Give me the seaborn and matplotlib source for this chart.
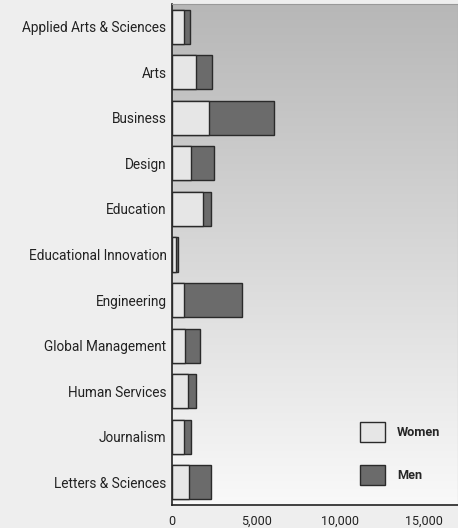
import numpy as np
import pandas as pd
import matplotlib
matplotlib.use('Agg')
import matplotlib.pyplot as plt
from matplotlib.patches import Patch
import seaborn as sns

# ── Data ───────────────────────────────────────────────
colleges = ['Applied Arts & Sciences', 'Arts', 'Business', 'Design',
            'Education', 'Educational Innovation', 'Engineering',
            'Global Management', 'Human Services', 'Journalism',
            'Letters & Sciences']
women = [700, 1400, 2200, 1150, 1850, 250, 700, 800, 930, 730, 990]
men   = [400, 1000, 3850, 1370, 480, 100, 3450, 880, 520, 400, 1330]

df = pd.DataFrame({'college': colleges, 'Women': women, 'Men': men})
df['Total'] = df['Women'] + df['Men']

sns.set_style('white')
plt.rcParams['font.family'] = ['Roboto', 'DejaVu Sans']

fig = plt.figure(figsize=(4.58, 5.28), dpi=100, facecolor='#eeeeee')
ax = fig.add_axes([0.3755, 0.0436, 0.6245, 0.9488])

# gradient background (dark at top, light at bottom)
grad = np.linspace(0, 1, 256).reshape(-1, 1)
ax.imshow(grad, cmap=matplotlib.colors.LinearSegmentedColormap.from_list(
              'bg', ['#b7b7b7', '#f9f9f9']),
          extent=[0, 17000, 10.5, -0.5], aspect='auto', zorder=0)

# stacked bars: total (men colour) then women on top
sns.barplot(data=df, x='Total', y='college', color='#6b6b6b',
            edgecolor='#2a2a2a', linewidth=1.0, width=0.75,
            saturation=1, ax=ax, zorder=2)
sns.barplot(data=df, x='Women', y='college', color='#e6e6e6',
            edgecolor='#2a2a2a', linewidth=1.0, width=0.75,
            saturation=1, ax=ax, zorder=3)

ax.set_xlim(0, 17000)
ax.set_ylim(10.5, -0.5)
ax.set_xticks([0, 5000, 10000, 15000])
ax.set_xticklabels(['0', '5,000', '10,000', '15,000'])
ax.set_xlabel('')
ax.set_ylabel('')
ax.tick_params(axis='x', direction='in', length=6, width=1,
               color='#333333', labelsize=9, pad=7, labelcolor='#222222')
ax.tick_params(axis='y', length=0, labelsize=9.8, pad=4, labelcolor='#222222')

for side in ['left', 'bottom']:
    ax.spines[side].set_color('#222222')
    ax.spines[side].set_linewidth(1.2)
for side in ['top', 'right']:
    ax.spines[side].set_color('#999999')
    ax.spines[side].set_linewidth(0.8)

handles = [Patch(facecolor='#e6e6e6', edgecolor='#2a2a2a', label='Women'),
           Patch(facecolor='#6b6b6b', edgecolor='#2a2a2a', label='Men')]
leg = ax.legend(handles=handles, loc='lower left',
                bbox_to_anchor=(0.657, 0.04), frameon=False,
                borderaxespad=0, borderpad=0, handletextpad=0.9,
                handlelength=2.0, handleheight=2.0, labelspacing=1.8,
                prop={'weight': 'bold', 'size': 9.2})

plt.savefig('out.png', dpi=100, facecolor=fig.get_facecolor())
